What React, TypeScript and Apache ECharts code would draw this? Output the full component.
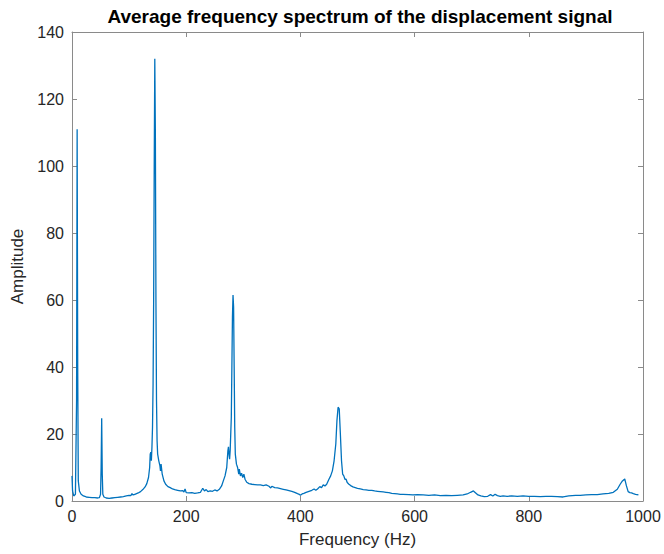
import React, { useEffect, useRef } from "react";
import * as echarts from "echarts";

const titleText = "Average frequency spectrum of the displacement signal";
const xAxisName = "Frequency (Hz)";
const yAxisName = "Amplitude";

const freqs: number[] = [
  0, 1, 3, 6, 8, 9, 10, 11, 13, 16, 20, 25, 30, 35, 40, 45, 48, 50, 51, 52, 53, 54, 56, 60, 65, 70, 75, 80, 85, 90, 95, 100,
  103, 105, 107, 110, 113, 116, 120, 124, 128, 131, 134, 136, 137, 138, 139, 140, 141, 142, 143, 144, 145, 146, 147, 148, 149,
  150, 152, 154, 155, 156, 158, 161, 164, 168, 172, 176, 180, 185, 190, 194, 196, 198, 200, 205, 210, 215, 220, 225, 229, 232,
  235, 238, 242, 246, 250, 254, 258, 262, 265, 268, 271, 273, 274, 275, 276, 277, 279, 280, 281, 282, 283, 284, 285, 286, 288,
  290, 292, 293, 295, 297, 299, 301, 303, 306, 310, 315, 320, 325, 330, 335, 340, 345, 348, 350, 355, 360, 365, 370, 375, 380,
  385, 390, 395, 398, 400, 403, 406, 410, 415, 420, 424, 427, 430, 434, 437, 440, 443, 446, 450, 453, 456, 459, 462, 464, 466,
  468, 470, 472, 474, 476, 478, 480, 482, 485, 488, 492, 496, 500, 505, 510, 515, 520, 525, 530, 535, 540, 545, 550, 555, 560,
  565, 570, 575, 580, 590, 597, 605, 615, 625, 635, 645, 655, 665, 675, 685, 692, 698, 703, 707, 711, 716, 722, 728, 733, 737,
  741, 745, 750, 755, 762, 770, 780, 790, 800, 810, 820, 830, 840, 850, 860, 870, 876, 882, 890, 900, 910, 920, 930, 940, 948,
  955, 960, 964, 968, 971, 974, 977, 980, 983, 987, 992, 996, 1000,
];

const amps: number[] = [
  7.5, 3, 1.5, 2, 30, 111, 40, 6, 3, 2, 1.5, 1.2, 1.1, 1.0, 1.0, 0.9, 1.0, 2, 10, 24.7, 8, 2, 1.2, 0.9, 0.8, 0.9, 1.0, 1.1, 1.2, 1.3, 1.5, 1.7,
  1.6, 2.2, 1.8, 2.0, 2.2, 2.4, 2.8, 3.4, 4.2, 5.2, 7.0, 10, 14, 14.6, 12, 16, 22, 35, 60, 100, 132, 110, 60, 30, 18,
  14, 12, 10.5, 9, 11, 8, 6, 5, 4.3, 4, 3.6, 3.4, 3.2, 3.0, 3.1, 2.7, 3.6, 2.5, 2.4, 2.5, 2.3, 2.4, 2.6, 3.8, 3.0,
  3.4, 2.8, 3.0, 2.9, 3.3, 3.0, 3.5, 4.5, 6, 7.5, 10, 15, 16.2, 14, 12.5, 15, 25, 40, 55, 61.5, 58, 40, 22, 14, 11,
  10, 8, 9.5, 7.5, 8.3, 7, 8, 6.5, 5.6, 5.2, 5.0, 4.9, 4.8, 4.8, 4.6, 4.8, 4.4, 3.9, 4.4, 4.0, 3.9, 3.7, 3.5, 3.3, 3.1,
  2.9, 2.6, 2.2, 2.0, 1.7, 2.1, 2.3, 2.6, 2.9, 3.2, 3.6, 3.2, 3.6, 4.3, 4.0, 4.8, 4.5, 5.0, 6.5, 7.5, 9, 12, 17, 24, 28,
  27.5, 20, 12, 8, 7.5, 6.5, 6.5, 5.5, 5, 4.6, 4.2, 4.0, 3.8, 3.6, 3.4, 3.3, 3.2, 3.2, 3.0, 2.9, 2.8, 2.7, 2.6, 2.5, 2.3,
  2.2, 2.1, 2.0, 2.0, 1.9, 1.8, 1.9, 1.8, 1.7, 1.8, 1.6, 1.7, 1.6, 1.7, 1.8, 2.1, 2.6, 3.0, 2.4, 1.8, 1.5, 1.3, 1.4, 1.9,
  1.5, 2.0, 1.6, 1.4, 1.5, 1.4, 1.5, 1.4, 1.5, 1.4, 1.4, 1.3, 1.4, 1.4, 1.3, 1.2, 1.5, 1.6, 1.7, 1.7, 1.8, 1.9, 1.9, 2.1,
  2.3, 2.6, 3.5, 5.0, 6.0, 6.6, 4.5, 2.8, 2.5, 2.4, 2.2, 2.0, 1.8,
];

const xTicks = { min: 0, max: 1000, interval: 200 };
const yTicks = { min: 0, max: 140, interval: 20 };

export default function App() {
  const ref = useRef<HTMLDivElement>(null);
  useEffect(() => {
    if (!ref.current) return;
    const chart = echarts.init(ref.current, null, { renderer: "svg" });
    const data = freqs.map((f, i) => [f, amps[i]]);
    const axisColor = "#8a8a8a";
    const labelColor = "#262626";
    const font = "Liberation Sans, Arial, Helvetica, sans-serif";
    const line = { show: true, onZero: false, lineStyle: { color: axisColor, width: 1 } };
    const tick = { show: true, inside: true, length: 5, lineStyle: { color: axisColor } };
    chart.setOption({
      animation: false,
      backgroundColor: "#ffffff",
      title: {
        text: titleText,
        left: 355,
        top: 2,
        textAlign: "center",
        textStyle: { fontFamily: font, fontWeight: "bold", fontSize: 19, color: "#000" },
      },
      grid: { left: 72, right: 21, top: 32, bottom: 53, containLabel: false },
      xAxis: [
        {
          type: "value",
          ...xTicks,
          position: "bottom",
          name: xAxisName,
          nameLocation: "middle",
          nameGap: 30,
          nameTextStyle: { fontFamily: font, fontSize: 17, color: labelColor },
          axisLine: line,
          axisTick: tick,
          axisLabel: { fontFamily: font, fontSize: 16, color: labelColor, margin: 7, formatter: (v: number) => String(v) },
          splitLine: { show: false },
        },
        {
          type: "value",
          ...xTicks,
          position: "top",
          axisLine: line,
          axisTick: tick,
          axisLabel: { show: false },
          splitLine: { show: false },
        },
      ],
      yAxis: [
        {
          type: "value",
          ...yTicks,
          position: "left",
          name: yAxisName,
          nameLocation: "middle",
          nameGap: 37,
          nameTextStyle: { fontFamily: font, fontSize: 17, color: labelColor },
          axisLine: line,
          axisTick: tick,
          axisLabel: { fontFamily: font, fontSize: 16, color: labelColor, margin: 8, formatter: (v: number) => String(v) },
          splitLine: { show: false },
        },
        {
          type: "value",
          ...yTicks,
          position: "right",
          axisLine: line,
          axisTick: tick,
          axisLabel: { show: false },
          splitLine: { show: false },
        },
      ],
      series: [
        {
          type: "line",
          data,
          xAxisIndex: 0,
          yAxisIndex: 0,
          showSymbol: false,
          symbol: "none",
          lineStyle: { color: "#0072BD", width: 1.3 },
        },
      ],
    });
    return () => chart.dispose();
  }, []);
  return (
    <div
      ref={ref}
      style={{ position: "fixed", left: 0, top: 0, width: 664, height: 554, background: "#fff" }}
    />
  );
}
